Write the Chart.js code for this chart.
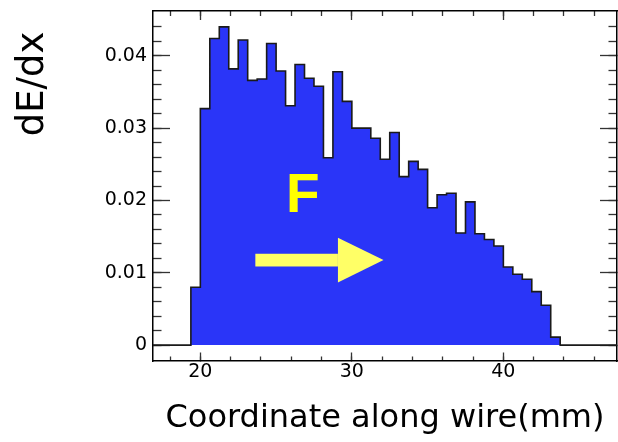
<!DOCTYPE html>
<html><head><meta charset="utf-8">
<script src="https://cdn.jsdelivr.net/npm/chart.js@4/dist/chart.umd.min.js"></script>
<style>html,body{margin:0;padding:0;background:#fff;}canvas{display:block;}</style>
</head><body>
<canvas id="c" width="618" height="442"></canvas>
<script>
// ---- data ----
const binEdges = [19.375, 20, 20.625, 21.25, 21.875, 22.5, 23.125, 23.75, 24.375, 25,
  25.625, 26.25, 26.875, 27.5, 28.125, 28.75, 29.375, 30, 30.625, 31.25,
  31.875, 32.5, 33.125, 33.75, 34.375, 35, 35.625, 36.25, 36.875, 37.5,
  38.125, 38.75, 39.375, 40, 40.625, 41.25, 41.875, 42.5, 43.125, 43.75];
const dEdx = [0.0080, 0.0327, 0.0424, 0.0440, 0.0382, 0.0422, 0.0366, 0.0368, 0.0417, 0.0379,
  0.0331, 0.0388, 0.0369, 0.0358, 0.0259, 0.0378, 0.0337, 0.0300, 0.0300, 0.0286,
  0.0257, 0.0294, 0.0233, 0.0254, 0.0243, 0.0190, 0.0208, 0.0210, 0.0155, 0.0198,
  0.0154, 0.0146, 0.0137, 0.0108, 0.0098, 0.0091, 0.0074, 0.0055, 0.0011];
const xMajorTicks = [20, 30, 40];
const xTickLabels = ['20', '30', '40'];
const xMinorTicks = [18, 20, 22, 24, 26, 28, 30, 32, 34, 36, 38, 40, 42, 44, 46];
const yMajorTicks = [0, 0.01, 0.02, 0.03, 0.04];
const yTickLabels = ['0', '0.01', '0.02', '0.03', '0.04'];
const yMinorTicks = [0, 0.002, 0.004, 0.006, 0.008, 0.010, 0.012, 0.014, 0.016, 0.018, 0.020,
  0.022, 0.024, 0.026, 0.028, 0.030, 0.032, 0.034, 0.036, 0.038, 0.040, 0.042, 0.044];
const xTitle = 'Coordinate along wire(mm)';
const yTitle = 'dE/dx';
const xMin = 16.875, xMax = 47.5;
const yMin = -0.0022, yMax = 0.0462;
// annotation (data coordinates)
const arrow = { x0: 23.63, x1: 29.08, x2: 32.09, y: 0.01175, shaftHalf: 0.00088, headHalf: 0.00308 };
const fLabel = { text: 'F', x: 26.77, y: 0.01835 };

// ---- build ----
const histPoints = [{ x: xMin, y: 0 }];
dEdx.forEach((v, i) => histPoints.push({ x: binEdges[i], y: v }));
histPoints.push({ x: binEdges[binEdges.length - 1], y: 0 });
histPoints.push({ x: xMax, y: 0 });

const tickFont = { family: 'DejaVu Sans', size: 19 };
const tickCol = '#333';
function setTicks(list) { return s => { s.ticks = list.map(v => ({ value: v })); }; }
function fitTo(size) {
  return s => {
    if (s.isHorizontal()) s.height = size; else s.width = size;
    s.paddingTop = 0; s.paddingBottom = 0; s.paddingLeft = 0; s.paddingRight = 0;
  };
}

function axis(pos, weight, tickList, tickLen, opts) {
  const horiz = pos === 'top' || pos === 'bottom';
  return Object.assign({
    type: 'linear', position: pos, weight: weight,
    min: horiz ? xMin : yMin, max: horiz ? xMax : yMax,
    afterBuildTicks: setTicks(tickList),
    ticks: { display: false, autoSkip: false },
    grid: { drawOnChartArea: false, drawTicks: true, tickLength: tickLen, tickColor: tickCol, tickWidth: 1.3 },
    border: { display: false },
    afterFit: fitTo(0)
  }, opts || {});
}

const annot = {
  id: 'annot',
  afterDatasetsDraw(chart) {
    const ctx = chart.ctx, xs = chart.scales.x, ys = chart.scales.y;
    const px = v => xs.getPixelForValue(v), py = v => ys.getPixelForValue(v);
    ctx.save();
    ctx.fillStyle = '#ffff66';
    ctx.fillRect(px(arrow.x0), py(arrow.y + arrow.shaftHalf), px(arrow.x1) - px(arrow.x0),
      py(arrow.y - arrow.shaftHalf) - py(arrow.y + arrow.shaftHalf));
    ctx.beginPath();
    ctx.moveTo(px(arrow.x1), py(arrow.y + arrow.headHalf));
    ctx.lineTo(px(arrow.x2), py(arrow.y));
    ctx.lineTo(px(arrow.x1), py(arrow.y - arrow.headHalf));
    ctx.closePath();
    ctx.fill();
    ctx.fillStyle = '#ffff00';
    ctx.font = 'bold 55px "Liberation Sans"';
    ctx.textAlign = 'center';
    ctx.textBaseline = 'alphabetic';
    ctx.fillText(fLabel.text, px(fLabel.x), py(fLabel.y));
    ctx.restore();
  },
  afterDraw(chart) {
    const ctx = chart.ctx;
    ctx.save();
    ctx.translate(43, 84);
    ctx.rotate(-Math.PI / 2);
    ctx.fillStyle = '#000';
    ctx.font = '37px "DejaVu Sans"';
    ctx.textAlign = 'center';
    ctx.textBaseline = 'alphabetic';
    ctx.fillText(yTitle, 0, 0);
    ctx.restore();
  }
};

new Chart(document.getElementById('c'), {
  type: 'line',
  data: {
    datasets: [{
      data: histPoints,
      stepped: 'before',
      fill: 'origin',
      backgroundColor: '#2a35f8',
      borderColor: '#1a1a1a',
      borderWidth: 1.6,
      pointRadius: 0,
      tension: 0
    }]
  },
  options: {
    responsive: false,
    animation: false,
    devicePixelRatio: 1,
    layout: { padding: { top: 11, right: 1, bottom: 0, left: 0 } },
    plugins: { legend: { display: false }, tooltip: { enabled: false }, title: { display: false } },
    scales: {
      x: axis('bottom', 1, xMajorTicks, -8.5, {
        ticks: { display: true, autoSkip: false, maxRotation: 0, padding: 8, color: '#000', font: tickFont,
          callback: (v, i) => xTickLabels[i] },
        border: { display: true, color: '#000', width: 1.5 },
        title: { display: true, text: xTitle, color: '#000', font: { family: 'DejaVu Sans', size: 32 }, padding: { top: 0, bottom: 4 } },
        afterFit: fitTo(81)
      }),
      xMinor: axis('bottom', 0, xMinorTicks, -4.5),
      xTop: axis('top', 1, xMajorTicks, -9, { border: { display: true, color: '#000', width: 1.5 } }),
      xTopMinor: axis('top', 0, xMinorTicks, -5),
      y: axis('left', 1, yMajorTicks, -17, {
        ticks: { display: true, autoSkip: false, padding: 23, color: '#000', font: tickFont,
          callback: (v, i) => yTickLabels[i] },
        border: { display: true, color: '#000', width: 1.5 },
        afterFit: fitTo(153)
      }),
      yMinor: axis('left', 0, yMinorTicks, -8.5),
      yRight: axis('right', 1, yMajorTicks, -17, { border: { display: true, color: '#000', width: 1.5 } }),
      yRightMinor: axis('right', 0, yMinorTicks, -8.5)
    }
  },
  plugins: [annot]
});
</script>
</body></html>
